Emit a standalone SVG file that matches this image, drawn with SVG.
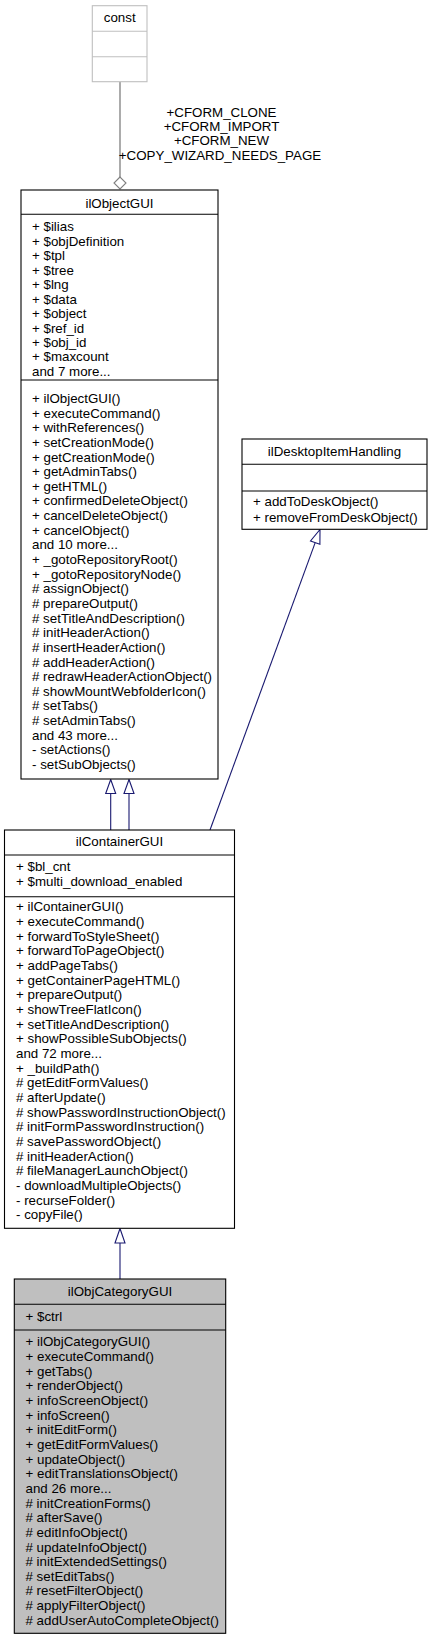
<svg xmlns="http://www.w3.org/2000/svg" width="432" height="1640" viewBox="0 0 432 1640">
<style>
text{font-family:"Liberation Sans",Arial,Helvetica,sans-serif;font-size:13.33px;fill:#000}
.c{text-anchor:middle}
.box{fill:#fff;stroke:#000;stroke-width:1.1}
.sel{fill:#bfbfbf;stroke:#000;stroke-width:1.1}
.ext{fill:#fff;stroke:#bfbfbf;stroke-width:1.1}
.div{stroke:#000;stroke-width:1.1}
.divg{stroke:#bfbfbf;stroke-width:1.1}
.inh{stroke:#191970;stroke-width:1.1;fill:none}
.head{fill:#fff;stroke:#191970;stroke-width:1.1}
.use{stroke:#7f7f7f;stroke-width:1.3;fill:none}
.dia{fill:#fff;stroke:#7f7f7f;stroke-width:1.1}
</style>
<g id="connectors">
  <line class="use" x1="120" y1="81.7" x2="120" y2="177"/>
  <polygon class="dia" points="120,177 114,183 120,189 126,183"/>
  <g id="usage-label">
    <text class="c" x="221.5" y="116.5">+CFORM_CLONE</text>
    <text class="c" x="221.5" y="130.9">+CFORM_IMPORT</text>
    <text class="c" x="221.5" y="145.3">+CFORM_NEW</text>
    <text class="c" x="220" y="159.7">+COPY_WIZARD_NEEDS_PAGE</text>
  </g>
  <line class="inh" x1="110.7" y1="793.5" x2="110.7" y2="830"/>
  <polygon class="head" points="110.7,779.5 105.7,793.5 115.7,793.5"/>
  <line class="inh" x1="129" y1="793.5" x2="129" y2="830"/>
  <polygon class="head" points="129,779.5 124,793.5 134,793.5"/>
  <line class="inh" x1="315.2" y1="542.6" x2="210" y2="830"/>
  <polygon class="head" points="320,529.5 319.9,544.3 310.5,540.9"/>
  <line class="inh" x1="120" y1="1243" x2="120" y2="1279"/>
  <polygon class="head" points="120,1228.5 115,1243 125,1243"/>
</g>
<g id="const">
  <rect class="ext" x="92.3" y="5.7" width="54.7" height="76"/>
  <line class="divg" x1="92.3" y1="31.3" x2="147" y2="31.3"/>
  <line class="divg" x1="92.3" y1="56.7" x2="147" y2="56.7"/>
  <text class="c" x="119.7" y="22">const</text>
</g>
<g id="ilObjectGUI">
  <rect class="box" x="21" y="190" width="197" height="589"/>
  <line class="div" x1="21" y1="214.3" x2="218" y2="214.3"/>
  <line class="div" x1="21" y1="380" x2="218" y2="380"/>
  <text class="c" x="119.5" y="208">ilObjectGUI</text>
  <text x="32" y="231.4">+ $ilias</text>
  <text x="32" y="245.85">+ $objDefinition</text>
  <text x="32" y="260.3">+ $tpl</text>
  <text x="32" y="274.75">+ $tree</text>
  <text x="32" y="289.2">+ $lng</text>
  <text x="32" y="303.65">+ $data</text>
  <text x="32" y="318.1">+ $object</text>
  <text x="32" y="332.55">+ $ref_id</text>
  <text x="32" y="347">+ $obj_id</text>
  <text x="32" y="361.45">+ $maxcount</text>
  <text x="32" y="375.9">and 7 more...</text>
  <text x="32" y="403">+ ilObjectGUI()</text>
  <text x="32" y="417.64">+ executeCommand()</text>
  <text x="32" y="432.28">+ withReferences()</text>
  <text x="32" y="446.92">+ setCreationMode()</text>
  <text x="32" y="461.56">+ getCreationMode()</text>
  <text x="32" y="476.2">+ getAdminTabs()</text>
  <text x="32" y="490.84">+ getHTML()</text>
  <text x="32" y="505.48">+ confirmedDeleteObject()</text>
  <text x="32" y="520.12">+ cancelDeleteObject()</text>
  <text x="32" y="534.76">+ cancelObject()</text>
  <text x="32" y="549.4">and 10 more...</text>
  <text x="32" y="564.04">+ _gotoRepositoryRoot()</text>
  <text x="32" y="578.68">+ _gotoRepositoryNode()</text>
  <text x="32" y="593.32"># assignObject()</text>
  <text x="32" y="607.96"># prepareOutput()</text>
  <text x="32" y="622.6"># setTitleAndDescription()</text>
  <text x="32" y="637.24"># initHeaderAction()</text>
  <text x="32" y="651.88"># insertHeaderAction()</text>
  <text x="32" y="666.52"># addHeaderAction()</text>
  <text x="32" y="681.16"># redrawHeaderActionObject()</text>
  <text x="32" y="695.8"># showMountWebfolderIcon()</text>
  <text x="32" y="710.44"># setTabs()</text>
  <text x="32" y="725.08"># setAdminTabs()</text>
  <text x="32" y="739.72">and 43 more...</text>
  <text x="32" y="754.36">- setActions()</text>
  <text x="32" y="769">- setSubObjects()</text>
</g>
<g id="ilDesktopItemHandling">
  <rect class="box" x="242" y="439" width="185" height="90.3"/>
  <line class="div" x1="242" y1="464.3" x2="427" y2="464.3"/>
  <line class="div" x1="242" y1="491" x2="427" y2="491"/>
  <text class="c" x="334.5" y="456.4">ilDesktopItemHandling</text>
  <text x="253" y="506.4">+ addToDeskObject()</text>
  <text x="253" y="521.5">+ removeFromDeskObject()</text>
</g>
<g id="ilContainerGUI">
  <rect class="box" x="4.5" y="830" width="230" height="398.3"/>
  <line class="div" x1="4.5" y1="855" x2="234.5" y2="855"/>
  <line class="div" x1="4.5" y1="896.7" x2="234.5" y2="896.7"/>
  <text class="c" x="119.5" y="846.4">ilContainerGUI</text>
  <text x="16" y="871.4">+ $bl_cnt</text>
  <text x="16" y="885.9">+ $multi_download_enabled</text>
  <text x="16" y="911.4">+ ilContainerGUI()</text>
  <text x="16" y="926.07">+ executeCommand()</text>
  <text x="16" y="940.74">+ forwardToStyleSheet()</text>
  <text x="16" y="955.41">+ forwardToPageObject()</text>
  <text x="16" y="970.08">+ addPageTabs()</text>
  <text x="16" y="984.75">+ getContainerPageHTML()</text>
  <text x="16" y="999.42">+ prepareOutput()</text>
  <text x="16" y="1014.09">+ showTreeFlatIcon()</text>
  <text x="16" y="1028.76">+ setTitleAndDescription()</text>
  <text x="16" y="1043.43">+ showPossibleSubObjects()</text>
  <text x="16" y="1058.1">and 72 more...</text>
  <text x="16" y="1072.77">+ _buildPath()</text>
  <text x="16" y="1087.44"># getEditFormValues()</text>
  <text x="16" y="1102.11"># afterUpdate()</text>
  <text x="16" y="1116.78"># showPasswordInstructionObject()</text>
  <text x="16" y="1131.45"># initFormPasswordInstruction()</text>
  <text x="16" y="1146.12"># savePasswordObject()</text>
  <text x="16" y="1160.79"># initHeaderAction()</text>
  <text x="16" y="1175.46"># fileManagerLaunchObject()</text>
  <text x="16" y="1190.13">- downloadMultipleObjects()</text>
  <text x="16" y="1204.8">- recurseFolder()</text>
  <text x="16" y="1219.47">- copyFile()</text>
</g>
<g id="ilObjCategoryGUI">
  <rect class="sel" x="14.3" y="1279" width="211.4" height="354.3"/>
  <line class="div" x1="14.3" y1="1304.3" x2="225.7" y2="1304.3"/>
  <line class="div" x1="14.3" y1="1330" x2="225.7" y2="1330"/>
  <text class="c" x="120" y="1296.4">ilObjCategoryGUI</text>
  <text x="25.5" y="1321.4">+ $ctrl</text>
  <text x="25.5" y="1346.4">+ ilObjCategoryGUI()</text>
  <text x="25.5" y="1361.05">+ executeCommand()</text>
  <text x="25.5" y="1375.7">+ getTabs()</text>
  <text x="25.5" y="1390.35">+ renderObject()</text>
  <text x="25.5" y="1405">+ infoScreenObject()</text>
  <text x="25.5" y="1419.65">+ infoScreen()</text>
  <text x="25.5" y="1434.3">+ initEditForm()</text>
  <text x="25.5" y="1448.95">+ getEditFormValues()</text>
  <text x="25.5" y="1463.6">+ updateObject()</text>
  <text x="25.5" y="1478.25">+ editTranslationsObject()</text>
  <text x="25.5" y="1492.9">and 26 more...</text>
  <text x="25.5" y="1507.55"># initCreationForms()</text>
  <text x="25.5" y="1522.2"># afterSave()</text>
  <text x="25.5" y="1536.85"># editInfoObject()</text>
  <text x="25.5" y="1551.5"># updateInfoObject()</text>
  <text x="25.5" y="1566.15"># initExtendedSettings()</text>
  <text x="25.5" y="1580.8"># setEditTabs()</text>
  <text x="25.5" y="1595.45"># resetFilterObject()</text>
  <text x="25.5" y="1610.1"># applyFilterObject()</text>
  <text x="25.5" y="1624.75"># addUserAutoCompleteObject()</text>
</g>
</svg>
